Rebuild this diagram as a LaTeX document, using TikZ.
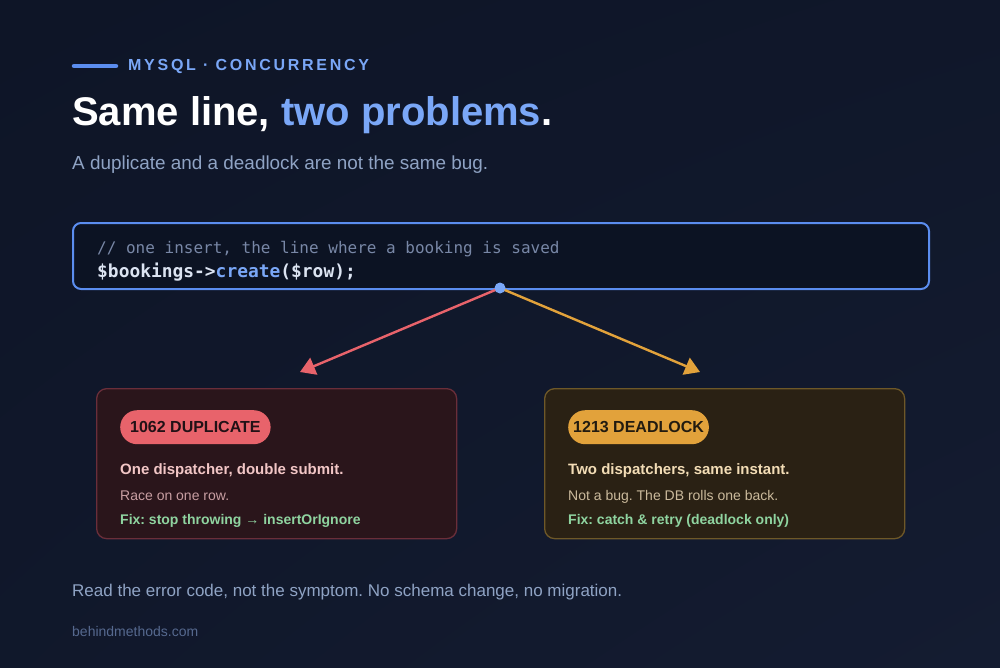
\documentclass[tikz,border=0pt]{standalone}
\usepackage{fontspec}
\setmainfont{Liberation Sans}
\newfontfamily\codefont{DejaVu Sans Mono}
\newfontfamily\kickerfont[LetterSpace=17]{Liberation Sans}
\usetikzlibrary{arrows.meta,positioning,shadings}
\frenchspacing

\definecolor{bgtop}{HTML}{0E1527}
\definecolor{bgbot}{HTML}{141C31}
\definecolor{accent}{HTML}{7AA7F7}
\definecolor{codeline}{HTML}{5B8DEF}
\definecolor{codebg}{HTML}{0C1323}
\definecolor{muted}{HTML}{8FA3C4}
\definecolor{comment}{HTML}{7887A6}
\definecolor{codetext}{HTML}{DCE4F2}
\definecolor{dupred}{HTML}{E8636B}
\definecolor{dupbg}{HTML}{2A151B}
\definecolor{dupedge}{HTML}{6A2E3A}
\definecolor{dupbold}{HTML}{F2C6C6}
\definecolor{dupsoft}{HTML}{C89EA2}
\definecolor{deadorange}{HTML}{E2A23B}
\definecolor{deadbg}{HTML}{2A2114}
\definecolor{deadedge}{HTML}{6E5828}
\definecolor{deadbold}{HTML}{F3DDB6}
\definecolor{deadsoft}{HTML}{CBBA9C}
\definecolor{fixgreen}{HTML}{8FD4A0}
\definecolor{site}{HTML}{56698F}

\newcommand{\fsz}[1]{\fontsize{#1}{#1}\selectfont}

\tikzset{
  txt/.style={inner sep=0pt, anchor=base west},
  card/.style={draw, line width=1.3pt, rounded corners=10pt, anchor=north west,
    minimum width=360pt, minimum height=150pt},
  pill/.style={anchor=north west, rounded corners=17pt, minimum height=34pt,
    inner xsep=10pt, inner ysep=0pt, font=\fsz{16}\bfseries},
  branch/.style={line width=2.4pt, -{Triangle[length=15pt,width=18pt]}},
}

\begin{document}
\begin{tikzpicture}[x=1pt,y=-1pt]
  \shade[upper left=bgtop, upper right=bgtop!70!bgbot, lower left=bgtop!60!bgbot,
    lower right=bgbot] (0,0) rectangle (1000,667);
  \useasboundingbox (0,0) rectangle (1000,667);

  % header
  \draw[codeline, line width=4.5pt, line cap=round] (74,66) -- (116,66);
  \node[txt, accent] (kicker) at (128,70.5) {\kickerfont\fsz{16}\bfseries MYSQL · CONCURRENCY};
  \node[txt, white] (title) at (72,125) {\fsz{40}\bfseries Same line, \textcolor{accent}{two problems}.};
  \node[txt, muted] (sub) at (72,169) {\fsz{18.9}A duplicate and a deadlock are not the same bug.};

  % the insert line
  \node[draw=codeline, fill=codebg, line width=2pt, rounded corners=8pt, anchor=north west,
    minimum width=856pt, minimum height=66pt] (code) at (72,222) {};
  \node[txt, comment] (cmt) at (97,253) {\codefont\fsz{16}// one insert, the line where a booking is saved};
  \node[txt, codetext] (call) at (97,277)
    {\codefont\fsz{17.9}\bfseries \$bookings->\textcolor{accent}{create}(\$row);};

  \coordinate (tap) at (500,288);
  \coordinate (dupin) at (300,372);
  \coordinate (deadin) at (700,372);
  \draw[branch, dupred] (tap) -- (dupin);
  \draw[branch, deadorange] (tap) -- (deadin);
  \fill[accent] (tap) circle (5.5pt);

  % duplicate
  \node[card, draw=dupedge, fill=dupbg] (dup) at (96,388) {};
  \node[pill, fill=dupred, text=dupbg!80!black] (dupcode) at (120,410) {1062 DUPLICATE};
  \node[txt, dupbold] (duphead) at (120,474) {\fsz{15}\bfseries One dispatcher, double submit.};
  \node[txt, dupsoft] (dupwhy) at (120,500) {\fsz{14}Race on one row.};
  \node[txt, fixgreen] (dupfix) at (120,524) {\fsz{14}\bfseries Fix: stop throwing → insertOrIgnore};

  % deadlock
  \node[card, draw=deadedge, fill=deadbg] (dead) at (544,388) {};
  \node[pill, fill=deadorange, text=deadbg!80!black, inner xsep=5pt] (deadcode) at (568,410) {1213 DEADLOCK};
  \node[txt, deadbold] (deadhead) at (568,474) {\fsz{15}\bfseries Two dispatchers, same instant.};
  \node[txt, deadsoft] (deadwhy) at (568,500) {\fsz{14}Not a bug. The DB rolls one back.};
  \node[txt, fixgreen] (deadfix) at (568,524) {\fsz{14}\bfseries Fix: catch \& retry (deadlock only)};

  % footer
  \node[txt, muted] (moral) at (72,596) {\fsz{17}Read the error code, not the symptom. No schema change, no migration.};
  \node[txt, site] (url) at (72,636) {\fsz{14}behindmethods.com};
\end{tikzpicture}
\end{document}
